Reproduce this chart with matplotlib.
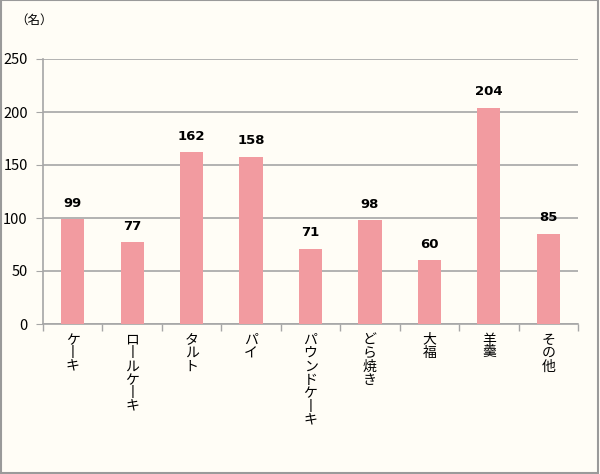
import matplotlib
matplotlib.use("Agg")
import matplotlib.pyplot as plt
from matplotlib.patches import Rectangle

plt.rcParams["font.family"] = ["Noto Sans CJK JP", "DejaVu Sans"]

# data
categories = ["ケーキ", "ロールケーキ", "タルト", "パイ", "パウンドケーキ",
              "どら焼き", "大福", "羊羹", "その他"]
counts = [99, 77, 162, 158, 71, 98, 60, 204, 85]
y_ticks = [0, 50, 100, 150, 200, 250]

bg = "#fffdf6"
bar_color = "#f29ba0"
grid_color = "#a6a6a6"

fig = plt.figure(figsize=(6.0, 4.74), dpi=100, facecolor=bg)
ax = fig.add_axes([43 / 600, 1 - 324 / 474, (578 - 43) / 600, (324 - 59) / 474])
ax.set_facecolor(bg)

x = list(range(len(categories)))
ax.bar(x, counts, width=0.39, color=bar_color, zorder=3)

for xi, v in zip(x, counts):
    ax.text(xi, v + 9, str(v), ha="center", va="bottom",
            fontsize=9.5, fontweight="bold", family="DejaVu Sans", zorder=4)

ax.set_xlim(-0.5, len(categories) - 0.5)
ax.set_ylim(0, 250)
ax.set_yticks(y_ticks)
ax.tick_params(axis="y", labelsize=10.5, length=5, color=grid_color, pad=6)
ax.yaxis.grid(True, color=grid_color, linewidth=1.2, zorder=0)

# category boundary ticks
ax.set_xticks([i - 0.5 for i in range(len(categories) + 1)])
ax.set_xticklabels([])
ax.tick_params(axis="x", length=5, color=grid_color, width=1)

# vertical (tategaki) category labels, one character at a time
step = 13.4
for xi, name in zip(x, categories):
    for k, c in enumerate(name):
        ax.annotate("丨" if c == "ー" else c, xy=(xi, 0),
                    xycoords=("data", "axes fraction"),
                    xytext=(0, -9 - step / 2 - k * step), textcoords="offset pixels",
                    ha="center", va="center", fontsize=10)

for side in ["top", "right"]:
    ax.spines[side].set_visible(False)
ax.spines["left"].set_color(grid_color)
ax.spines["bottom"].set_color(grid_color)
ax.spines["left"].set_linewidth(1.2)
ax.spines["bottom"].set_linewidth(1.2)

fig.text(15 / 600, 1 - 20 / 474, "（名）", fontsize=9, ha="left", va="center")

# outer frame
fig.patches.append(Rectangle((0.001, 0.003), 0.996, 0.996, transform=fig.transFigure,
                             fill=False, edgecolor="#9a9a9a", linewidth=1.5))

fig.savefig("out.png", dpi=100, facecolor=bg)
